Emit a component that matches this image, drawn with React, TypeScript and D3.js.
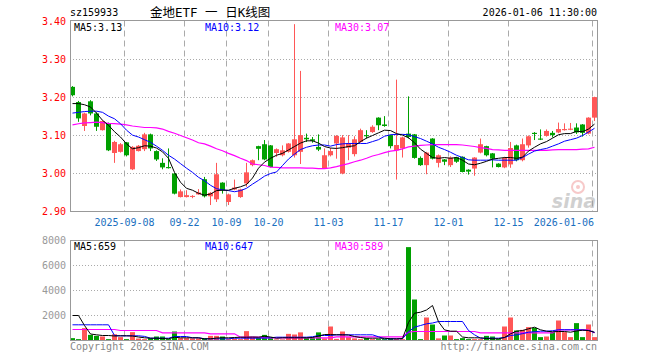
import React from 'react';
import * as d3 from 'd3';

const dates = [
  '2025-08-26','2025-08-27','2025-08-28','2025-08-29',
  '2025-09-01','2025-09-02','2025-09-03','2025-09-04','2025-09-05','2025-09-08','2025-09-09','2025-09-10','2025-09-11','2025-09-12',
  '2025-09-15','2025-09-16','2025-09-17','2025-09-18','2025-09-19','2025-09-22','2025-09-23','2025-09-24','2025-09-25','2025-09-26',
  '2025-09-29','2025-09-30',
  '2025-10-09','2025-10-10','2025-10-13','2025-10-14','2025-10-15','2025-10-16','2025-10-17','2025-10-20','2025-10-21','2025-10-22',
  '2025-10-23','2025-10-24','2025-10-27','2025-10-28','2025-10-29','2025-10-30','2025-10-31',
  '2025-11-03','2025-11-04','2025-11-05','2025-11-06','2025-11-07','2025-11-10','2025-11-11','2025-11-12','2025-11-13','2025-11-14',
  '2025-11-17','2025-11-18','2025-11-19','2025-11-20','2025-11-21','2025-11-24','2025-11-25','2025-11-26','2025-11-27','2025-11-28',
  '2025-12-01','2025-12-02','2025-12-03','2025-12-04','2025-12-05','2025-12-08','2025-12-09','2025-12-10','2025-12-11','2025-12-12',
  '2025-12-15','2025-12-16','2025-12-17','2025-12-18','2025-12-19','2025-12-22','2025-12-23','2025-12-24','2025-12-25','2025-12-26',
  '2025-12-29','2025-12-30','2025-12-31','2026-01-05','2026-01-06'
];

const open = [
  3.228,3.188,3.125,3.190,3.158,3.114,3.132,3.054,3.057,3.082,
  3.011,3.059,3.064,3.103,3.059,3.028,3.017,3.000,2.938,2.938,
  2.939,2.945,2.985,2.940,2.932,2.976,2.925,2.958,2.938,2.974,
  3.022,3.072,3.077,3.074,3.054,3.048,3.057,3.048,3.057,3.094,
  3.090,3.070,3.013,3.048,3.079,3.000,3.068,3.051,3.083,3.101,
  3.109,3.147,3.129,3.101,3.061,3.066,3.105,3.103,3.041,3.022,
  3.092,3.028,3.037,3.022,3.043,3.044,3.010,3.013,3.055,3.072,
  3.053,3.026,3.016,3.024,3.074,3.035,3.074,3.107,3.092,3.099,
  3.107,3.108,3.114,3.115,3.121,3.129,3.105,3.147
];
const close = [
  3.206,3.145,3.158,3.158,3.123,3.138,3.061,3.083,3.077,3.048,
  3.070,3.073,3.103,3.066,3.037,3.016,3.014,2.947,2.953,2.943,
  2.941,2.950,2.940,2.949,2.998,2.956,2.945,2.963,2.958,3.003,
  3.035,3.065,3.037,3.017,3.064,3.061,3.079,3.090,3.101,3.090,
  3.086,3.063,3.048,3.059,3.099,3.095,3.079,3.090,3.114,3.098,
  3.123,3.127,3.125,3.072,3.075,3.095,3.096,3.041,3.022,3.055,
  3.039,3.048,3.031,3.042,3.031,3.004,3.005,3.042,3.077,3.048,
  3.039,3.017,3.041,3.067,3.035,3.077,3.098,3.104,3.089,3.112,
  3.101,3.117,3.117,3.118,3.108,3.107,3.147,3.201
];
const high = [
  3.230,3.191,3.160,3.193,3.161,3.140,3.134,3.086,3.080,3.083,
  3.072,3.075,3.107,3.105,3.061,3.040,3.066,3.001,2.958,2.956,
  2.943,2.959,2.991,2.951,3.028,2.977,2.947,2.984,2.960,3.028,
  3.037,3.073,3.088,3.075,3.066,3.074,3.080,3.393,3.270,3.105,
  3.096,3.103,3.066,3.067,3.101,3.101,3.101,3.098,3.118,3.114,
  3.127,3.148,3.151,3.102,3.247,3.097,3.203,3.104,3.045,3.057,
  3.093,3.050,3.038,3.045,3.044,3.045,3.011,3.043,3.092,3.073,
  3.054,3.027,3.044,3.083,3.076,3.092,3.100,3.109,3.116,3.116,
  3.112,3.134,3.132,3.133,3.132,3.130,3.148,3.202
];
const low = [
  3.203,3.136,3.112,3.153,3.112,3.113,3.059,3.028,3.055,3.045,
  3.009,3.058,3.059,3.059,3.033,3.011,3.013,2.945,2.937,2.937,
  2.935,2.944,2.937,2.917,2.925,2.947,2.917,2.956,2.936,2.965,
  3.019,3.035,3.035,3.016,3.044,3.045,3.055,3.042,3.025,3.083,
  3.081,3.059,3.012,3.045,3.039,2.998,3.035,3.045,3.081,3.092,
  3.107,3.114,3.123,3.066,2.984,3.042,3.092,3.039,3.020,2.998,
  3.037,3.016,3.022,3.017,3.028,3.003,2.997,2.994,3.053,3.045,
  3.016,3.016,3.014,3.015,3.032,3.032,3.068,3.088,3.088,3.097,
  3.095,3.106,3.113,3.114,3.104,3.097,3.103,3.138
];

const ma5 = [
  3.184,3.184,3.181,3.175,3.159,3.140,3.127,3.110,3.096,3.078,
  3.065,3.068,3.073,3.072,3.067,3.057,3.040,3.003,2.977,2.961,
  2.956,2.948,2.943,2.946,2.955,2.956,2.956,2.961,2.965,2.971,
  2.988,3.014,3.030,3.040,3.048,3.053,3.062,3.071,3.080,3.086,
  3.086,3.080,3.071,3.067,3.066,3.068,3.071,3.073,3.084,3.093,
  3.100,3.107,3.114,3.113,3.105,3.101,3.094,3.081,3.064,3.053,
  3.042,3.040,3.042,3.040,3.042,3.035,3.025,3.023,3.027,3.032,
  3.038,3.040,3.042,3.042,3.040,3.043,3.059,3.069,3.078,3.084,
  3.093,3.102,3.105,3.105,3.111,3.110,3.117,3.130
];
const ma10 = [
  3.159,3.161,3.163,3.164,3.164,3.161,3.151,3.144,3.131,3.114,
  3.101,3.096,3.089,3.082,3.072,3.061,3.048,3.038,3.026,3.014,
  3.003,2.990,2.981,2.969,2.960,2.957,2.955,2.952,2.955,2.961,
  2.972,2.982,2.993,3.000,3.004,3.021,3.038,3.051,3.063,3.069,
  3.073,3.075,3.075,3.072,3.076,3.078,3.079,3.079,3.079,3.079,
  3.084,3.089,3.098,3.102,3.103,3.103,3.102,3.097,3.092,3.085,
  3.078,3.069,3.063,3.056,3.048,3.042,3.036,3.035,3.035,3.035,
  3.036,3.035,3.035,3.035,3.035,3.042,3.051,3.059,3.063,3.066,
  3.072,3.078,3.085,3.089,3.093,3.100,3.109,3.119
];
const ma30 = [
  3.128,3.131,3.133,3.134,3.135,3.134,3.132,3.131,3.130,3.128,
  3.125,3.123,3.121,3.121,3.120,3.117,3.111,3.106,3.100,3.094,
  3.088,3.081,3.078,3.072,3.065,3.060,3.053,3.047,3.040,3.034,
  3.025,3.023,3.021,3.017,3.016,3.015,3.015,3.015,3.015,3.014,
  3.014,3.013,3.013,3.015,3.018,3.022,3.026,3.031,3.035,3.040,
  3.046,3.050,3.055,3.059,3.061,3.065,3.070,3.072,3.074,3.075,
  3.076,3.076,3.076,3.076,3.076,3.075,3.073,3.071,3.068,3.066,
  3.063,3.062,3.061,3.061,3.061,3.061,3.061,3.061,3.061,3.061,
  3.062,3.063,3.063,3.063,3.063,3.064,3.065,3.069
];

const volume = [
  190,110,990,450,370,320,110,500,270,110,
  670,160,110,190,320,320,110,720,190,190,
  170,170,170,370,370,320,110,160,110,750,
  270,190,450,190,90,90,530,480,650,190,
  190,650,170,1120,130,720,270,170,110,190,
  110,110,110,190,130,110,7470,3280,110,1840,
  1280,170,400,400,110,190,110,110,110,370,
  320,110,1120,1840,800,850,1070,1010,270,320,
  670,1600,670,270,1390,270,1280,270
];
const volMa5 = [
  2000,2000,1200,520,456,400,400,360,376,376,
  360,280,216,184,184,160,136,264,216,216,
  216,216,136,136,200,216,216,240,264,264,
  280,264,344,280,184,216,216,216,216,216,
  240,360,480,480,456,456,440,320,240,184,
  184,184,184,136,136,160,1440,2184,2264,2440,
  2800,1500,850,744,744,280,216,216,216,160,
  136,136,240,536,744,800,936,1064,856,744,
  696,720,720,664,760,824,800,656
];
const volMa10 = [
  1256,1256,1256,1256,1256,1256,1256,400,376,376,
  376,376,330,184,184,184,184,320,320,320,
  216,216,136,136,136,136,136,184,184,184,
  184,184,200,216,264,264,264,264,264,264,
  300,400,400,400,456,456,456,456,456,456,
  456,300,136,136,136,136,700,1064,1200,1336,
  1400,1520,1520,1520,1520,1520,800,456,184,184,
  184,184,240,400,450,550,664,700,744,744,
  780,860,860,860,860,850,800,650
];
const volMa30 = [
  880,880,880,880,880,880,880,880,800,800,
  800,800,800,800,800,613,613,613,613,613,
  613,613,613,533,533,533,533,533,264,264,
  264,264,216,216,216,216,216,216,216,216,
  216,216,216,216,296,296,296,296,296,296,
  296,296,296,296,296,296,664,720,720,720,
  720,720,720,720,720,720,720,720,613,613,
  613,613,613,613,613,613,613,613,613,613,
  613,856,856,856,856,856,856,600
];

const priceTicks = [3.4, 3.3, 3.2, 3.1, 3.0, 2.9];
const volTicks = [8000, 6000, 4000, 2000];
const dateTickIndex = [9, 19, 26, 33, 43, 53, 63, 73, 87];
const dateTickLabel = ['2025-09-08', '09-22', '10-09', '10-20', '11-03', '11-17', '12-01', '12-15', '2026-01-06'];

const RED = '#ff5757';
const GREEN = '#00a000';
const MONO = '"DejaVu Sans Mono", "Liberation Mono", monospace';

export default function App() {
  const L = 70, R = 597;
  const x = d3.scaleLinear().domain([0, dates.length]).range([L, L + 6 * dates.length]);
  const yP = d3.scaleLinear().domain([2.9, 3.4]).range([211.5, 21.5]);
  const yV = d3.scaleLinear().domain([0, 8000]).range([340.5, 240.5]);
  const cx = (i: number) => x(i) + 2.5;
  const idx = d3.range(dates.length);

  const lineP = (arr: number[]) => d3.line<number>().x((_, i) => cx(i)).y(d => yP(d))(arr) || '';
  const lineV = (arr: number[]) => d3.line<number>().x((_, i) => cx(i)).y(d => yV(d))(arr) || '';

  const gridX = dateTickIndex.map(i => Math.round(x(i)) + 0.5);

  return (
    <svg width={660} height={360} style={{ position: 'absolute', left: 0, top: 0, background: '#fff' }}
      fontFamily={MONO}>
      <rect x={0} y={0} width={660} height={360} fill="#fff" />
      {/* header */}
      <text x={70} y={16} fontSize={10} fill="#000">sz159933</text>
      <text x={150} y={16.5} fontSize={12.5} fill="#000" fontFamily={'"DejaVu Sans Mono", "Noto Sans CJK SC", monospace'}>金地ETF 一 日K线图</text>
      <text x={597} y={16} fontSize={10} fill="#000" textAnchor="end">2026-01-06 11:30:00</text>

      {/* price grid */}
      {priceTicks.slice(1, -1).map(t => (
        <line key={'pg' + t} x1={L} x2={R} y1={yP(t)} y2={yP(t)} stroke="#aaa" strokeDasharray="1,2" />
      ))}
      {gridX.map((gx, k) => (
        <line key={'pv' + k} x1={gx} x2={gx} y1={20.5} y2={211.5} stroke="#aaa" strokeDasharray="6,4" />
      ))}
      {priceTicks.map(t => (
        <text key={'pl' + t} x={66} y={yP(t)} fontSize={10} fill="#f00" textAnchor="end" dominantBaseline="central">{t.toFixed(2)}</text>
      ))}

      {/* sina watermark */}
      <g opacity={0.45}>
        <circle cx={578} cy={187} r={6} fill="none" stroke="#e88" strokeWidth={2} />
        <circle cx={578} cy={187} r={2} fill="#e88" />
        <text x={596} y={208} fontSize={19} fontWeight="bold" fontStyle="italic" fill="#999" textAnchor="end" fontFamily="Verdana, 'DejaVu Sans', sans-serif">sina</text>
      </g>

      {/* candles */}
      {idx.map(i => {
        const up = close[i] >= open[i];
        const c = up ? RED : GREEN;
        const top = yP(Math.max(open[i], close[i]));
        const bot = yP(Math.min(open[i], close[i]));
        return (
          <g key={'c' + i}>
            <line x1={cx(i)} x2={cx(i)} y1={yP(high[i])} y2={yP(low[i])} stroke={c} strokeWidth={1} />
            <rect x={x(i)} y={top} width={5} height={Math.max(1, bot - top)} fill={c} />
          </g>
        );
      })}

      {/* MA lines */}
      <path d={lineP(ma30)} fill="none" stroke="#f0f" strokeWidth={1.2} />
      <path d={lineP(ma10)} fill="none" stroke="#00f" strokeWidth={1} />
      <path d={lineP(ma5)} fill="none" stroke="#000" strokeWidth={1} />

      <rect x={70.5} y={20.5} width={527} height={191} fill="none" stroke="#999" />

      <text x={74} y={27} fontSize={10} fill="#000" dominantBaseline="central">MA5:{ma5[ma5.length - 1].toFixed(2)}</text>
      <text x={205} y={27} fontSize={10} fill="#00f" dominantBaseline="central">MA10:{ma10[ma10.length - 1].toFixed(2)}</text>
      <text x={335} y={27} fontSize={10} fill="#f0f" dominantBaseline="central">MA30:{ma30[ma30.length - 1].toFixed(2)}</text>

      {/* date labels */}
      {dateTickIndex.map((i, k) => (
        <text key={'dl' + k} x={k === dateTickIndex.length - 1 ? 594 : gridX[k]} y={222} fontSize={10}
          fill="#1a6fc0" textAnchor={k === dateTickIndex.length - 1 ? 'end' : 'middle'} dominantBaseline="central">
          {dateTickLabel[k]}
        </text>
      ))}

      {/* volume panel */}
      {volTicks.slice(1).map(t => (
        <line key={'vg' + t} x1={L} x2={R} y1={yV(t)} y2={yV(t)} stroke="#aaa" strokeDasharray="1,2" />
      ))}
      {gridX.map((gx, k) => (
        <line key={'vv' + k} x1={gx} x2={gx} y1={240.5} y2={340.5} stroke="#aaa" strokeDasharray="6,4" />
      ))}
      {volTicks.map(t => (
        <text key={'vl' + t} x={66} y={yV(t)} fontSize={10} fill="#999" textAnchor="end" dominantBaseline="central">{t}</text>
      ))}
      {idx.map(i => {
        const up = close[i] >= open[i];
        const top = yV(volume[i]);
        return <rect key={'v' + i} x={x(i)} y={top} width={5} height={yV(0) - top} fill={up ? RED : GREEN} />;
      })}
      <path d={lineV(volMa30)} fill="none" stroke="#f0f" strokeWidth={1.2} />
      <path d={lineV(volMa10)} fill="none" stroke="#00f" strokeWidth={1} />
      <path d={lineV(volMa5)} fill="none" stroke="#000" strokeWidth={1} />
      <rect x={70.5} y={240.5} width={527} height={100} fill="none" stroke="#999" />

      <text x={74} y={246} fontSize={10} fill="#000" dominantBaseline="central">MA5:659</text>
      <text x={205} y={246} fontSize={10} fill="#00f" dominantBaseline="central">MA10:647</text>
      <text x={335} y={246} fontSize={10} fill="#f0f" dominantBaseline="central">MA30:589</text>

      <text x={70} y={346} fontSize={10} fill="#888" dominantBaseline="central">Copyright 2026 SINA.COM</text>
      <text x={597} y={346} fontSize={10} fill="#888" textAnchor="end" dominantBaseline="central">http://finance.sina.com.cn</text>
    </svg>
  );
}
